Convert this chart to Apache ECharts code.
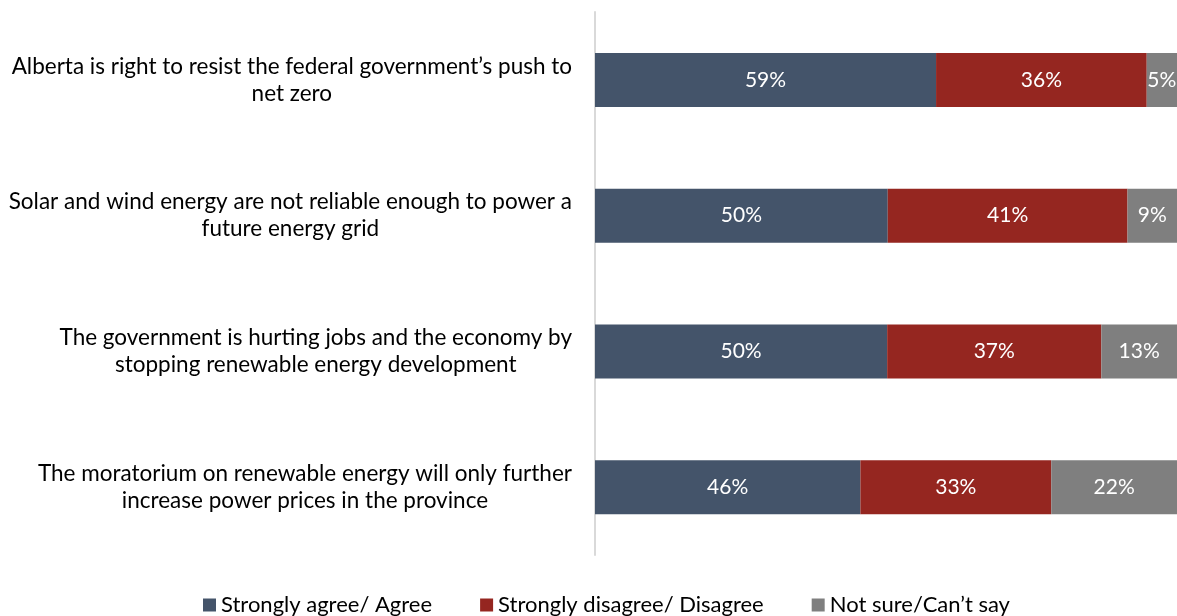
<!DOCTYPE html>
<html>
<head>
<meta charset="utf-8">
<script src="https://cdn.jsdelivr.net/npm/echarts@6/dist/echarts.min.js"></script>
<style>html,body{margin:0;padding:0;background:#fff}#c{width:1177px;height:616px}</style>
</head>
<body>
<div id="c"></div>
<script>
const categories = [
  "Alberta is right to resist the federal government’s push to\nnet zero",
  "Solar and wind energy are not reliable enough to power a\nfuture energy grid",
  "The government is hurting jobs and the economy by\nstopping renewable energy development",
  "The moratorium on renewable energy will only further\nincrease power prices in the province"
];
const seriesNames = ["Strongly agree/ Agree", "Strongly disagree/ Disagree", "Not sure/Can’t say"];
const agree = [58.6, 50.3, 50.2, 45.6];
const disagree = [36.2, 41.2, 36.8, 32.8];
const notSure = [5.2, 8.5, 13.0, 21.6];
const colors = ["#44546A", "#952620", "#7F7F7F"];

const FONT = "Lato";
const chart = echarts.init(document.getElementById('c'), null, {renderer: 'canvas'});
const mk = (name, data, color) => ({
  name, type: 'bar', stack: 'total', data,
  barWidth: 54,
  itemStyle: {color},
  label: {show: true, position: 'inside', color: '#fff', fontFamily: FONT, fontSize: 21,
    formatter: p => Math.round(p.value) + '%'},
  emphasis: {disabled: true}
});
chart.setOption({
  animation: false,
  textStyle: {fontFamily: FONT},
  grid: {left: 595, top: 12, width: 588, height: 543, containLabel: false},
  legend: {
    top: 589, left: 198, itemWidth: 13, itemHeight: 13, itemGap: 48,
    icon: 'rect',
    textStyle: {fontFamily: FONT, fontSize: 22, color: '#000'},
    data: seriesNames
  },
  xAxis: {type: 'value', min: 0, max: 100, show: false},
  yAxis: {
    type: 'category', data: categories, inverse: true,
    axisLine: {show: true, lineStyle: {color: '#D9D9D9', width: 2}},
    axisTick: {show: false},
    axisLabel: {
      margin: 23, color: '#000', fontFamily: FONT, fontSize: 22.5, align: 'right',
      formatter: v => v.split('\n').map(s => '{a|' + s + '}').join('\n'),
      rich: {a: {align: 'center', fontFamily: FONT, fontSize: 22.5, color: '#000', lineHeight: 27}}
    }
  },
  series: [mk(seriesNames[0], agree, colors[0]), mk(seriesNames[1], disagree, colors[1]), mk(seriesNames[2], notSure, colors[2])]
});
</script>
</body>
</html>
